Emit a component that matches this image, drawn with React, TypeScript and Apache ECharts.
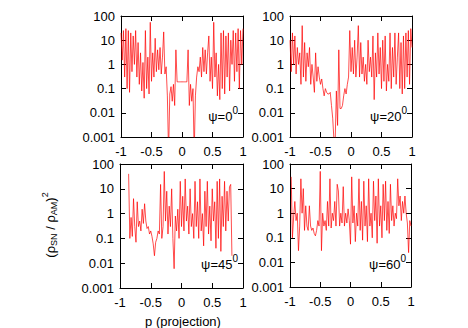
import React, { useEffect, useRef } from 'react';
import * as echarts from 'echarts';

const P = [
  -1, -0.98, -0.96, -0.94, -0.92, -0.9, -0.88, -0.86, -0.84, -0.82,
  -0.8, -0.78, -0.76, -0.74, -0.72, -0.7, -0.68, -0.66, -0.64, -0.62,
  -0.6, -0.58, -0.56, -0.54, -0.52, -0.5, -0.48, -0.46, -0.44, -0.42,
  -0.4, -0.38, -0.36, -0.34, -0.32, -0.3, -0.28, -0.26, -0.24, -0.22,
  -0.2, -0.18, -0.16, -0.14, -0.12, -0.1, -0.08, -0.06, -0.04, -0.02,
  0,
  0.02, 0.04, 0.06, 0.08, 0.1, 0.12, 0.14, 0.16, 0.18, 0.2,
  0.22, 0.24, 0.26, 0.28, 0.3, 0.32, 0.34, 0.36, 0.38, 0.4,
  0.42, 0.44, 0.46, 0.48, 0.5, 0.52, 0.54, 0.56, 0.58, 0.6,
  0.62, 0.64, 0.66, 0.68, 0.7, 0.72, 0.74, 0.76, 0.78, 0.8,
  0.82, 0.84, 0.86, 0.88, 0.9, 0.92, 0.94, 0.96, 0.98, 1,
];

const PSI0 = [
  20, 1.5, 25, 0.3, 30, 0.1, 25, 0.07, 20, 0.5,
  15, 1, 25, 0.3, 8, 0.15, 3, 0.08, 1.2, 0.04,
  25, 0.1, 2, 0.06, 55, 0.2, 3, 0.3, 12, 0.5,
  4, 0.6, 5, 0.4, 2, 22, 0.4, 0.8, 0.05, 0.0002,
  0.06, 0.12, 0.03, 0.15, 0.02, 4, 0.19, 0.19, 0.19, 0.19,
  0.19,
  0.19, 0.19, 0.19, 0.19, 4, 0.02, 0.15, 0.03, 0.1, 0.0002,
  0.05, 0.3, 0.8, 0.5, 2, 0.3, 5, 0.5, 4, 0.4,
  3, 15, 0.2, 2, 0.1, 55, 0.3, 3, 0.05, 1,
  0.035, 20, 0.1, 25, 0.06, 15, 0.3, 20, 0.08, 10,
  1, 25, 0.2, 20, 0.5, 30, 0.1, 25, 1, 30,
];

const PSI20 = [
  10, 0.5, 20, 1, 15, 0.4, 5, 1, 3, 0.15,
  40, 0.3, 8, 0.2, 3, 0.8, 5, 0.15, 1, 0.3,
  0.07, 3, 0.2, 0.8, 0.3, 0.15, 0.25, 0.1, 0.05, 0.1,
  0.07, 0.06, 0.06, 0.07, 0.02, 0.006, 0.0008, 0.0006, 0.08, 0.003,
  4, 0.015, 0.015, 0.02, 0.05, 0.1, 0.06, 0.15, 0.3, 25,
  0.5,
  5, 0.4, 10, 0.3, 2, 40, 0.3, 8, 0.4, 2,
  0.2, 1, 0.15, 10, 0.5, 2, 0.3, 15, 0.035, 3,
  0.3, 20, 0.4, 5, 0.1, 10, 0.2, 15, 0.08, 1,
  0.2, 20, 0.1, 5, 0.3, 20, 0.15, 2, 20, 0.1,
  8, 0.06, 15, 0.1, 20, 0.3, 25, 0.15, 30, 5,
];

const PSI45 = [
  null, null, null, null, null, null, null, 40, 0.1, 0.7,
  0.12, 4, 0.3, 0.07, 3, 0.3, 0.5, 0.2, 1.5, 0.4,
  2.5, 0.5, 0.25, 0.3, 0.15, 0.2, 0.12, 0.06, 0.02, 0.07,
  0.1, 0.2, 0.15, 15, 0.1, 0.3, 50, 0.5, 8, 0.15,
  2, 0.3, 10, 0.1, 0.006, 0.8, 0.2, 1.5, 0.1, 20,
  0.3,
  5, 0.2, 25, 0.5, 2, 0.15, 10, 0.3, 1, 0.1,
  20, 0.3, 3, 0.1, 25, 0.2, 1, 0.05, 8, 0.3,
  20, 0.15, 2, 0.08, 10, 0.5, 3, 0.04, 20, 0.1,
  25, 0.03, 5, 0.3, 20, 0.2, 8, 0.5, 12, 15,
  0.02, null, null, null, null, null, null, null, null, null,
];

const PSI60 = [
  null, 30, 0.1, 0.7, 3, 0.5, 1, 0.03, 0.3, 25,
  1, 10, 0.2, 2, 0.3, 0.2, 2, 0.3, 0.2, 0.25,
  0.15, 0.12, 0.2, 0.5, 0.3, 50, 0.03, 1, 0.3, 0.5,
  0.2, 3, 0.3, 25, 0.25, 1, 0.5, 3, 0.3, 15,
  8, 0.3, 1, 0.4, 12, 0.3, 1, 0.4, 1.5, 0.5,
  0.055,
  30, 0.4, 2, 0.07, 1, 0.3, 25, 0.2, 3, 0.08,
  20, 0.3, 2, 0.07, 25, 0.3, 1, 0.1, 20, 0.5,
  5, 0.06, 25, 0.3, 2, 0.1, 15, 0.5, 20, 0.2,
  3, 0.15, 15, 0.5, 2, 0.3, 1, 0.6, 25, 2,
  5, 0.5, 3, 1, 5, 1, 0.4, 0.025, 0.5, 0.3,
];

const ANGLES = ['0', '20', '45', '60'];
const SERIES = [PSI0, PSI20, PSI45, PSI60];
const Y_LABELS = ['0.001', '0.01', '0.1', '1', '10', '100'];
const X_TITLE = 'p (projection)';
// y title pieces: [text, kind]  n = normal, s = subscript, p = superscript
const Y_TITLE: [string, string][] = [
  ['(ρ', 'n'], ['SN', 's'], [' / ρ', 'n'], ['AM', 's'], [')', 'n'], ['2', 'p'],
];

const FONT_NAME = '"Liberation Sans", Arial, Helvetica, sans-serif';

const GRIDS = [
  { left: 121, top: 16, width: 122, height: 121 },
  { left: 290, top: 16, width: 122, height: 121 },
  { left: 120, top: 164, width: 123, height: 124 },
  { left: 290, top: 164, width: 121, height: 123 },
];

const LABEL_Y = [116, 116, 264, 264];

function measure(text: string, size: number) {
  const c = document.createElement('canvas').getContext('2d');
  if (!c) return text.length * size * 0.55;
  c.font = `${size}px ${FONT_NAME}`;
  return c.measureText(text).width;
}

export default function App() {
  const ref = useRef<HTMLDivElement>(null);
  useEffect(() => {
    if (!ref.current) return;
    const chart = echarts.init(ref.current, undefined, { renderer: 'svg' });
    const axisLine = { show: true, onZero: false, lineStyle: { color: '#000', width: 1 } };
    const axisTick = { show: true, inside: true, length: 5, lineStyle: { color: '#000', width: 1 } };
    const xAxis: any[] = [];
    const yAxis: any[] = [];
    GRIDS.forEach((_, i) => {
      xAxis.push({
        gridIndex: i, type: 'value', min: -1, max: 1, interval: 0.5, position: 'bottom',
        axisLine, axisTick, splitLine: { show: false },
        axisLabel: { color: '#000', fontSize: 13, fontFamily: FONT_NAME, margin: 8 },
      });
    });
    GRIDS.forEach((_, i) => {
      xAxis.push({
        gridIndex: i, type: 'value', min: -1, max: 1, interval: 0.5, position: 'top',
        axisLine, axisTick, splitLine: { show: false }, axisLabel: { show: false },
      });
    });
    GRIDS.forEach((_, i) => {
      yAxis.push({
        gridIndex: i, type: 'log', logBase: 10, min: 0.001, max: 100, position: 'left',
        axisLine, axisTick, splitLine: { show: false },
        axisLabel: {
          color: '#000', fontSize: 13, fontFamily: FONT_NAME, margin: 6,
          formatter: (v: number) => Y_LABELS[Math.round(Math.log10(v)) + 3],
        },
      });
    });
    GRIDS.forEach((_, i) => {
      yAxis.push({
        gridIndex: i, type: 'log', logBase: 10, min: 0.001, max: 100, position: 'right',
        axisLine, axisTick, splitLine: { show: false }, axisLabel: { show: false },
      });
    });
    const series = SERIES.map((vals, i) => ({
      type: 'line',
      xAxisIndex: i,
      yAxisIndex: i,
      showSymbol: false,
      symbol: 'none',
      clip: true,
      lineStyle: { color: '#ff0000', width: 0.7 },
      data: P.map((x, k) => [x, vals[k]]).filter((d) => d[1] !== null),
    }));

    const graphic: any[] = [];
    const supW = measure('0', 10);
    ANGLES.forEach((a, i) => {
      const right = GRIDS[i].left + GRIDS[i].width - 5;
      graphic.push({
        type: 'text',
        x: right - supW,
        y: LABEL_Y[i],
        style: {
          text: `ψ=${a}`, align: 'right', verticalAlign: 'middle',
          fontSize: 13, fontFamily: FONT_NAME, fill: '#000',
        },
      });
      graphic.push({
        type: 'text',
        x: right - supW,
        y: LABEL_Y[i] - 6,
        style: {
          text: '0', align: 'left', verticalAlign: 'middle',
          fontSize: 10, fontFamily: FONT_NAME, fill: '#000',
        },
      });
    });

    // rotated y title built from pieces
    const sizes: Record<string, number> = { n: 13, s: 9, p: 9 };
    const offs: Record<string, number> = { n: 0, s: 4, p: -5 };
    const widths = Y_TITLE.map(([t, k]) => measure(t, sizes[k]));
    const total = widths.reduce((s, w) => s + w, 0);
    let cx = -total / 2;
    const children: any[] = Y_TITLE.map(([t, k], j) => {
      const el = {
        type: 'text',
        x: cx,
        y: offs[k],
        style: {
          text: t, align: 'left', verticalAlign: 'middle',
          fontSize: sizes[k], fontFamily: FONT_NAME, fill: '#000',
        },
      };
      cx += widths[j];
      return el;
    });
    graphic.push({
      type: 'group',
      x: 50,
      y: 225,
      rotation: Math.PI / 2,
      children,
    });

    graphic.push({
      type: 'text',
      x: 183,
      y: 321,
      style: {
        text: X_TITLE, align: 'center', verticalAlign: 'middle',
        fontSize: 13, fontFamily: FONT_NAME, fill: '#000',
      },
    });
    chart.setOption({
      animation: false,
      backgroundColor: '#fff',
      grid: GRIDS,
      xAxis,
      yAxis,
      series,
      graphic,
    });
    return () => chart.dispose();
  }, []);
  return (
    <div
      ref={ref}
      style={{ position: 'fixed', left: 0, top: 0, width: 468, height: 328 }}
    />
  );
}
